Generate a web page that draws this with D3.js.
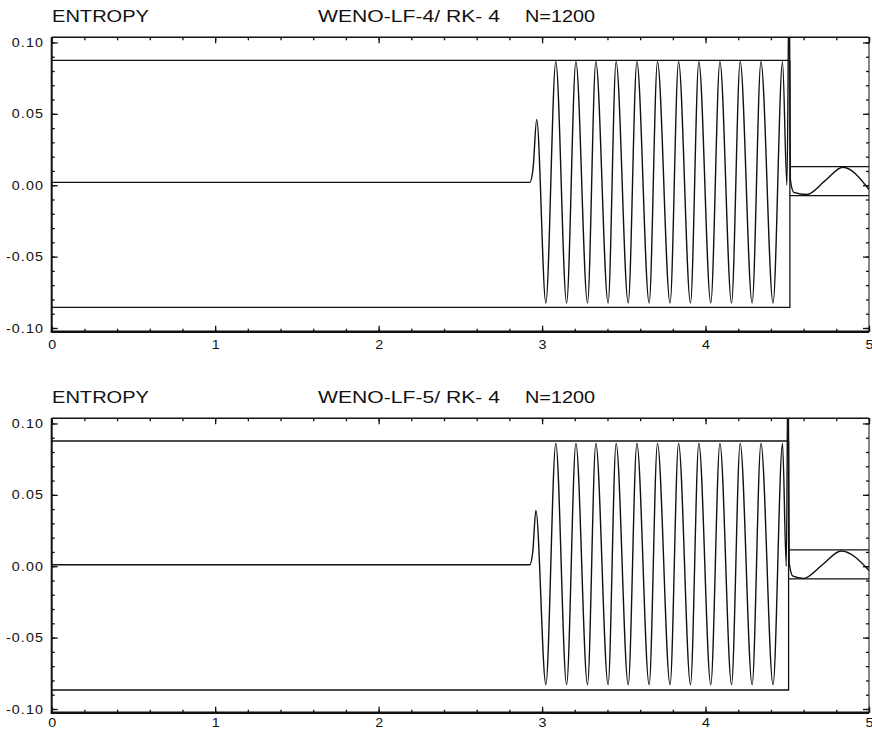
<!DOCTYPE html>
<html>
<head>
<meta charset="utf-8">
<script src="https://cdn.jsdelivr.net/npm/d3@7"></script>
<style>
  body { margin: 0; background: #fff; }
  text { font-family: "Liberation Sans", Arial, sans-serif; fill: #111; }
</style>
</head>
<body>
<script>
var width = 872;
var height = 730;

// axis values
var xTicks = [0, 1, 2, 3, 4, 5];
var xTickLabels = ["0", "1", "2", "3", "4", "5"];
var yTicks = [-0.10, -0.05, 0, 0.05, 0.10];
var yTickLabels = ["-0.10", "-0.05", "0.00", "0.05", "0.10"];

var leftTitles = ["ENTROPY", "ENTROPY"];
var schemeTitles = ["WENO-LF-4/ RK- 4", "WENO-LF-5/ RK- 4"];
var sizeTitles = ["N=1200", "N=1200"];

// computed entropy (x, s)
var entropyLF4 = [
  [0.000, 0.002], [2.925, 0.002], [2.945, 0.012], [2.967, 0.046],
  [3.023, -0.0825], [3.084, 0.0865], [3.150, -0.0825], [3.207, 0.0865],
  [3.278, -0.0825], [3.329, 0.0865], [3.404, -0.0825], [3.453, 0.0865],
  [3.527, -0.0825], [3.580, 0.0865], [3.655, -0.0825], [3.706, 0.0865],
  [3.783, -0.0825], [3.835, 0.0865], [3.908, -0.0825], [3.959, 0.0865],
  [4.032, -0.0825], [4.088, 0.0865], [4.159, -0.0825], [4.212, 0.0865],
  [4.285, -0.0825], [4.339, 0.0865], [4.413, -0.0825], [4.471, 0.0865],
  [4.498, 0.000], [4.512, 0.150], [4.519, 0.004], [4.540, -0.005],
  [4.620, -0.0065], [4.730, 0.003], [4.840, 0.0126], [5.000, -0.003]
];
var entropyLF5 = [
  [0.000, 0.001], [2.925, 0.001], [2.943, 0.010], [2.962, 0.039],
  [3.023, -0.083], [3.084, 0.086], [3.150, -0.083], [3.207, 0.086],
  [3.278, -0.083], [3.329, 0.086], [3.404, -0.083], [3.453, 0.086],
  [3.527, -0.083], [3.580, 0.086], [3.655, -0.083], [3.706, 0.086],
  [3.783, -0.083], [3.835, 0.086], [3.908, -0.083], [3.959, 0.086],
  [4.032, -0.083], [4.088, 0.086], [4.159, -0.083], [4.212, 0.086],
  [4.285, -0.083], [4.339, 0.086], [4.413, -0.083], [4.471, 0.086],
  [4.494, 0.000], [4.505, 0.150], [4.512, 0.002], [4.535, -0.007],
  [4.600, -0.0085], [4.715, 0.001], [4.830, 0.0107], [5.000, -0.003]
];

// amplitude envelopes (exact solution bounds)
var envelopeLF4 = [
  [[0, 0.0875], [4.516, 0.0875]],
  [[0, -0.0855], [4.516, -0.0855], [4.516, 0.0875]],
  [[4.516, 0.013], [5, 0.013]],
  [[4.516, -0.0073], [5, -0.0073]]
];
var envelopeLF5 = [
  [[0, 0.0877], [4.508, 0.0877]],
  [[0, -0.0867], [4.508, -0.0867], [4.508, 0.0877]],
  [[4.508, 0.0114], [5, 0.0114]],
  [[4.508, -0.0089], [5, -0.0089]]
];

var panels = [
  { oy: 0, pad: 8, series: entropyLF4, envelope: envelopeLF4 },
  { oy: 381, pad: 5, series: entropyLF5, envelope: envelopeLF5 }
];

var svg = d3.select('body').append('svg')
  .attr('width', width)
  .attr('height', height);

var x = d3.scaleLinear().domain([0, 5]).range([51.7, 869]);
var y = d3.scaleLinear().domain([-0.1026, 0.1036]).range([331.7, 37.3]);

var ink = "#111";

function drawPanel(p, i) {
  var g = svg.append("g").attr("transform", "translate(0," + p.oy + ")");

  var x0 = x.range()[0], x1 = x.range()[1];
  var y0 = y.range()[1], y1 = y.range()[0];

  g.append("clipPath").attr("id", "clip" + i)
    .append("rect")
    .attr("x", x0).attr("y", y0)
    .attr("width", x1 - x0).attr("height", y1 - y0);

  var line = d3.line()
    .x(function(d) { return x(d[0]); })
    .y(function(d) { return y(d[1]); });

  var plot = g.append("g").attr("clip-path", "url(#clip" + i + ")");

  plot.selectAll("path.env")
    .data(p.envelope)
    .enter().append("path")
    .attr("class", "env")
    .attr("d", line.curve(d3.curveLinear))
    .attr("fill", "none")
    .attr("stroke", ink)
    .attr("stroke-width", 1.3);

  plot.append("path")
    .attr("d", line.curve(d3.curveMonotoneX)(p.series))
    .attr("fill", "none")
    .attr("stroke", ink)
    .attr("stroke-width", 1.4);

  // ticks, all pointing inward
  function ticks(axis, tr) {
    var a = g.append("g").attr("transform", tr).call(axis);
    a.select(".domain").remove();
    a.selectAll("line").attr("stroke", ink).attr("stroke-width", 1.3);
    return a;
  }
  ticks(d3.axisBottom(x).ticks(25).tickSize(-3).tickFormat(""), "translate(0," + y1 + ")");
  ticks(d3.axisTop(x).ticks(25).tickSize(-3).tickFormat(""), "translate(0," + y0 + ")");
  ticks(d3.axisTop(x).tickValues(xTicks).tickSize(-6).tickFormat(""), "translate(0," + y0 + ")");
  ticks(d3.axisLeft(y).ticks(20).tickSize(-3).tickFormat(""), "translate(" + x0 + ",0)");
  ticks(d3.axisRight(y).ticks(20).tickSize(-3).tickFormat(""), "translate(" + x1 + ",0)");
  ticks(d3.axisRight(y).tickValues(yTicks).tickSize(-6).tickFormat(""), "translate(" + x1 + ",0)");

  var bx = ticks(d3.axisBottom(x).tickValues(xTicks).tickSize(-6).tickPadding(p.pad)
      .tickFormat(function(d, k) { return xTickLabels[k]; }), "translate(0," + y1 + ")");
  bx.selectAll("text")
    .style("font-size", "13px")
    .style("font-family", "Liberation Sans, Arial, sans-serif")
    .attr("fill", ink)
    .attr("transform", "scale(1.1,1)");

  var ly = ticks(d3.axisLeft(y).tickValues(yTicks).tickSize(-6).tickPadding(7)
      .tickFormat(function(d, k) { return yTickLabels[k]; }), "translate(" + x0 + ",0)");
  ly.selectAll("text")
    .style("font-size", "13px")
    .style("font-family", "Liberation Sans, Arial, sans-serif")
    .style("letter-spacing", "1px")
    .attr("fill", ink)
    .attr("transform", "scale(1.1,1)");

  // frame
  g.append("line").attr("x1", x0).attr("x2", x0).attr("y1", y0).attr("y2", y1)
    .attr("stroke", ink).attr("stroke-width", 2);
  g.append("line").attr("x1", x0 - 1).attr("x2", x1).attr("y1", y1).attr("y2", y1)
    .attr("stroke", ink).attr("stroke-width", 2.5);
  g.append("line").attr("x1", x0).attr("x2", x1).attr("y1", y0).attr("y2", y0)
    .attr("stroke", ink).attr("stroke-width", 1.5);
  g.append("line").attr("x1", x1).attr("x2", x1).attr("y1", y0).attr("y2", y1)
    .attr("stroke", ink).attr("stroke-width", 1);

  // titles
  g.append("text").attr("x", 52).attr("y", 22)
    .style("font-size", "16.5px")
    .attr("textLength", 97).attr("lengthAdjust", "spacingAndGlyphs")
    .text(leftTitles[i]);
  g.append("text").attr("x", 318).attr("y", 22)
    .style("font-size", "16.5px")
    .attr("textLength", 182).attr("lengthAdjust", "spacingAndGlyphs")
    .text(schemeTitles[i]);
  g.append("text").attr("x", 525).attr("y", 22)
    .style("font-size", "16.5px")
    .attr("textLength", 70).attr("lengthAdjust", "spacingAndGlyphs")
    .text(sizeTitles[i]);
}

panels.forEach(drawPanel);
</script>
</body>
</html>
